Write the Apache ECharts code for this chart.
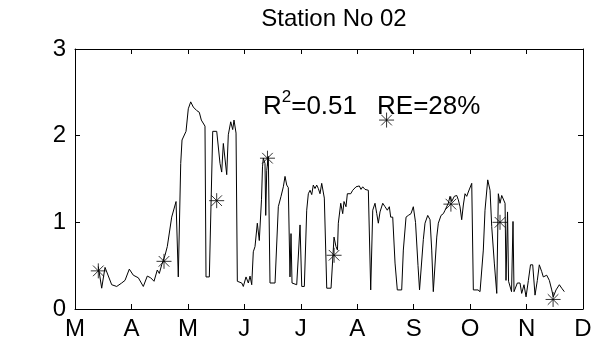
<!DOCTYPE html>
<html>
<head>
<meta charset="utf-8">
<script src="https://cdn.jsdelivr.net/npm/echarts@6/dist/echarts.min.js"></script>
<style>
  html, body { margin: 0; padding: 0; background: #fff; }
  #chart { width: 596px; height: 346px; }
</style>
</head>
<body>
<div id="chart"></div>
<script>
// Month tick labels, Mar 1 .. Dec 1 (x is measured in months from Mar 1)
var monthLabels = ['M', 'A', 'M', 'J', 'J', 'A', 'S', 'O', 'N', 'D'];

// Simulated daily series: position (months since Mar 1) and value
var simX = [
  0.413, 0.473, 0.532, 0.650, 0.739, 0.827, 0.886, 0.962, 1.033, 1.122,
  1.210, 1.281, 1.341, 1.400, 1.458, 1.494, 1.536, 1.595, 1.635, 1.713,
  1.790, 1.830, 1.873, 1.896, 1.967, 2.007, 2.050, 2.096, 2.156, 2.202,
  2.227, 2.238, 2.303, 2.321, 2.380, 2.440, 2.511, 2.569, 2.599, 2.628,
  2.688, 2.716, 2.759, 2.794, 2.817, 2.853, 2.876, 2.954, 2.982, 3.030,
  3.071, 3.101, 3.131, 3.159, 3.189, 3.230, 3.265, 3.304, 3.322, 3.336,
  3.366, 3.379, 3.397, 3.425, 3.455, 3.544, 3.602, 3.650, 3.691, 3.721,
  3.751, 3.779, 3.809, 3.827, 3.845, 3.868, 3.928, 3.956, 3.987, 4.017,
  4.063, 4.105, 4.134, 4.164, 4.194, 4.222, 4.252, 4.282, 4.311, 4.341,
  4.371, 4.399, 4.417, 4.460, 4.536, 4.589, 4.624, 4.650, 4.665, 4.708,
  4.743, 4.766, 4.801, 4.825, 4.860, 4.885, 4.920, 4.952, 4.979, 5.002,
  5.037, 5.067, 5.097, 5.138, 5.197, 5.227, 5.239, 5.275, 5.315, 5.346,
  5.374, 5.404, 5.452, 5.493, 5.533, 5.569, 5.593, 5.629, 5.670, 5.710,
  5.788, 5.817, 5.865, 5.905, 5.953, 5.994, 6.033, 6.077, 6.104, 6.139,
  6.171, 6.201, 6.249, 6.290, 6.320, 6.348, 6.378, 6.409, 6.437, 6.485,
  6.526, 6.556, 6.586, 6.614, 6.644, 6.674, 6.720, 6.763, 6.791, 6.821,
  6.851, 6.880, 6.910, 6.940, 6.968, 6.998, 7.029, 7.057, 7.140, 7.176,
  7.206, 7.234, 7.264, 7.312, 7.353, 7.383, 7.429, 7.472, 7.500, 7.530,
  7.560, 7.589, 7.619, 7.636, 7.663, 7.681, 7.734, 7.760, 7.778, 7.837,
  7.884, 7.914, 7.955, 7.991, 8.032, 8.070, 8.109, 8.150, 8.191, 8.226,
  8.269, 8.297, 8.357, 8.404, 8.446, 8.474, 8.522, 8.581, 8.623, 8.669
];
var simY = [
  0.49, 0.24, 0.48, 0.28, 0.26, 0.30, 0.33, 0.46, 0.39, 0.36,
  0.26, 0.38, 0.36, 0.32, 0.45, 0.41, 0.51, 0.62, 0.72, 1.06,
  1.24, 0.37, 1.68, 1.95, 2.05, 2.31, 2.39, 2.33, 2.29, 2.27,
  2.28, 2.18, 2.11, 0.37, 0.37, 2.05, 2.05, 1.68, 1.58, 1.91,
  1.55, 2.01, 2.16, 2.07, 2.18, 2.03, 0.32, 0.30, 0.26, 0.37,
  0.30, 0.38, 0.28, 0.66, 0.72, 0.99, 0.79, 1.26, 1.64, 1.74,
  1.68, 1.08, 1.60, 1.76, 0.30, 0.30, 1.18, 1.30, 1.41, 1.53,
  1.43, 1.40, 0.37, 0.87, 0.30, 0.28, 0.28, 0.60, 0.97, 0.26,
  0.26, 1.14, 1.33, 1.37, 1.32, 1.43, 1.39, 1.43, 1.39, 1.33,
  1.45, 1.45, 1.28, 0.24, 0.24, 0.83, 0.72, 0.68, 0.99, 1.22,
  1.10, 1.24, 1.18, 1.33, 1.35, 1.33, 1.37, 1.35, 1.41, 1.39,
  1.42, 1.38, 1.41, 1.38, 1.37, 1.37, 0.22, 1.14, 1.22, 1.10,
  0.99, 1.12, 1.22, 1.18, 1.14, 1.18, 1.06, 1.06, 0.53, 0.22,
  0.22, 0.68, 1.06, 1.08, 1.10, 1.18, 1.00, 0.50, 0.22, 0.22,
  0.80, 0.99, 1.08, 1.03, 0.68, 0.20, 0.22, 0.83, 0.99, 1.08,
  1.10, 1.14, 1.16, 1.22, 1.30, 1.24, 1.30, 1.31, 1.26, 1.18,
  1.03, 1.20, 1.33, 1.30, 1.35, 1.37, 1.45, 0.22, 0.22, 0.20,
  0.18, 0.68, 1.14, 1.49, 1.37, 0.95, 0.53, 0.18, 1.33, 1.22,
  1.31, 1.29, 1.22, 0.33, 1.12, 0.32, 0.20, 1.01, 0.20, 0.30,
  0.30, 0.18, 0.28, 0.14, 0.33, 0.51, 0.51, 0.16, 0.33, 0.51,
  0.43, 0.37, 0.39, 0.33, 0.22, 0.14, 0.22, 0.28, 0.24, 0.20
];

// Observed values (asterisks)
var obsX = [0.413, 1.577, 2.51, 3.41, 4.59, 5.52, 6.66, 7.53, 8.47];
var obsY = [0.44, 0.55, 1.25, 1.74, 0.62, 2.18, 1.21, 1.00, 0.11];

var titleText = 'Station No 02';
var statsR2 = ['R', '2', '=0.51'];
var statsRE = 'RE=28%';

var FONT = '"Liberation Sans", Arial, Helvetica, sans-serif';
var FS = 24;

function pairs(xs, ys) {
  var out = [];
  for (var i = 0; i < xs.length; i++) out.push([xs[i], ys[i]]);
  return out;
}

var chart = echarts.init(document.getElementById('chart'), null, { renderer: 'canvas' });

var baseX = {
  type: 'value', min: 0, max: 9, interval: 1,
  axisLine: { show: true, onZero: false, lineStyle: { color: '#000', width: 1 } },
  axisTick: { show: true, inside: true, length: 5, lineStyle: { color: '#000' } },
  splitLine: { show: false }
};
var baseY = {
  type: 'value', min: 0, max: 3, interval: 1,
  axisLine: { show: true, onZero: false, lineStyle: { color: '#000', width: 1 } },
  axisTick: { show: true, inside: true, length: 5, lineStyle: { color: '#000' } },
  splitLine: { show: false }
};

chart.setOption({
  animation: false,
  backgroundColor: '#fff',
  textStyle: { fontFamily: FONT },
  title: {
    text: titleText, left: 329, top: 2, textAlign: 'center',
    textStyle: { fontFamily: FONT, fontSize: FS, fontWeight: 'normal', color: '#000' }
  },
  grid: { left: 75, right: 13, top: 49, bottom: 37, containLabel: false },
  xAxis: [
    Object.assign({}, baseX, {
      position: 'bottom',
      axisLabel: {
        show: true, margin: 8, color: '#000', fontSize: FS, fontFamily: FONT,
        formatter: function (v) { return monthLabels[Math.round(v)]; }
      }
    }),
    Object.assign({}, baseX, { position: 'top', axisLabel: { show: false } })
  ],
  yAxis: [
    Object.assign({}, baseY, {
      position: 'left',
      axisLabel: { show: true, margin: 9, color: '#000', fontSize: FS, fontFamily: FONT }
    }),
    Object.assign({}, baseY, { position: 'right', axisLabel: { show: false } })
  ],
  graphic: [{
    type: 'text', left: 263, top: 89,
    style: {
      text: '{b|' + statsR2[0] + '}{s|' + statsR2[1] + '}{b|' + statsR2[2] + '}{g|}{b|' + statsRE + '}',
      rich: {
        b: { fontFamily: FONT, fontSize: 26, lineHeight: 31, verticalAlign: 'bottom', fill: '#000' },
        s: { fontFamily: FONT, fontSize: 17, lineHeight: 17, verticalAlign: 'top', fill: '#000' },
        g: { width: 20, lineHeight: 31 }
      }
    }
  }],
  series: [
    {
      type: 'line', data: pairs(simX, simY),
      showSymbol: false, smooth: false,
      lineStyle: { color: '#000', width: 1 }, z: 2
    },
    {
      type: 'scatter', data: pairs(obsX, obsY),
      symbol: 'path://M0,5L10,5M5,0L5,10M1.46,1.46L8.54,8.54M8.54,1.46L1.46,8.54',
      symbolSize: 15,
      itemStyle: { color: 'rgba(0,0,0,0)', borderColor: '#000', borderWidth: 1 }, z: 3
    }
  ]
});
</script>
</body>
</html>
